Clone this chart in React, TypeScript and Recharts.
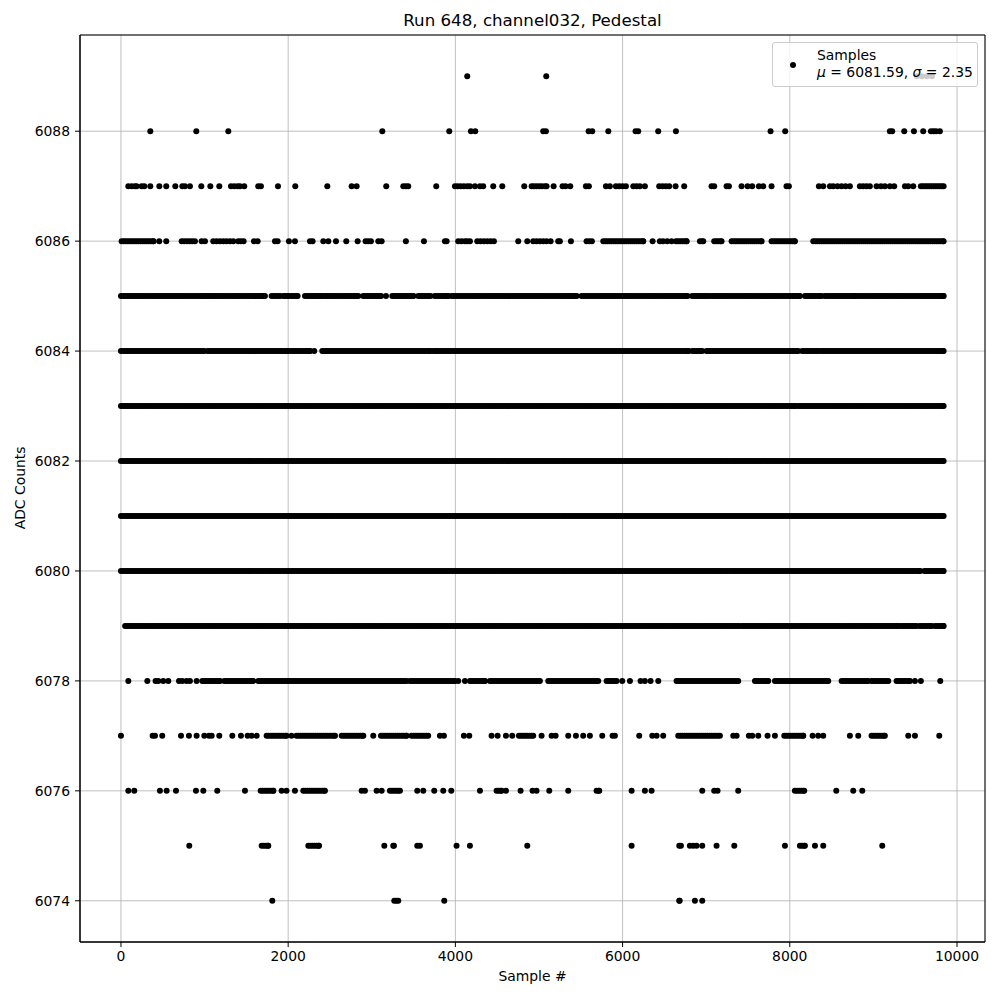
import React from "react";
import { ScatterChart, Scatter, XAxis, YAxis, CartesianGrid, ReferenceArea } from "recharts";

// Each entry: a single sample index (one dot) or [start, end] = a stretch read as densely filled
const adc6089 = [4142, 5087, 9520, 9580, 9640, 9700];
const adc6088 = [351, 901, 1284, 3126, 3927, 4186, 4238, 5051, 5083, 5594, 5637, 5829, 6155, 6187, 6426, 6638, 7770, 7945, 9197, 9225, 9369, 9485, 9596, 9688, 9720, 9750, 9795];
const adc6087: (number | number[])[] = [88, 128, 167, 187, 247, 279, 351, 459, 542, 650, 734, 765, 825, 961, 1069, 1176, 1316, 1355, 1395, 1423, 1475, 1642, 1674, 1878, 2085, 2468, 2759, 2819, 3173, 3377, 3409, 3436, 3771, 3995, 4027, 4063, 4102, 4142, 4174, 4234, 4294, 4333, 4453, 4561, 4824, 4912, 4940, 4971, 5003, 5035, 5071, 5091, 5175, 5282, 5318, 5374, 5561, 5597, 5801, 5848, 5920, 5960, 6000, 6040, 6128, 6167, 6207, 6267, 6438, 6478, 6518, 6558, 6634, 6737, 7064, 7096, 7244, 7272, 7423, 7495, 7550, 7630, 7682, 7782, 7961, 7989, 8348, 8400, 8480, 8519, 8571, 8619, 8667, 8719, 8838, 8878, 8918, 8958, 9038, 9090, 9137, 9197, 9249, 9377, 9417, 9477, [9568, 9840]];
const adc6086: (number | number[])[] = [[8, 391], 458, 542, 726, 757, 789, 821, 853, 885, 965, 1005, 1104, 1144, 1184, 1224, 1264, 1304, 1344, 1403, 1435, 1467, 1591, 1635, 1842, 1874, 2009, 2081, 2261, 2292, 2420, 2480, 2572, 2695, 2831, 2926, 2958, 2990, 3078, 3118, 3408, 3624, 3875, 3895, 4034, 4074, 4114, 4142, 4174, 4262, 4301, 4341, 4381, 4421, 4461, 4752, 4860, 4931, 4971, 5011, 5051, 5091, 5139, 5230, 5250, 5382, 5569, 5601, 5633, [5769, 6247], 6359, 6446, 6486, 6534, 6586, [6638, 6766], [6925, 6965], [7096, 7184], [7304, 7663], [7782, 8061], [8281, 9840]];
const adc6085: (number | number[])[] = [[0, 1025], [1045, 1702], 1722, [1802, 1902], [1942, 2113], [2201, 2392], [2420, 2839], [2898, 3110], 3170, [3245, 3496], [3556, 3703], [3755, 3915], [3955, 5450], [5510, 6777], [6833, 7025], [7057, 8121], [8181, 8380], [8420, 8779], [8811, 9840]];
const adc6084: (number | number[])[] = [[0, 997], [1037, 2001], [2033, 2261], 2312, [2408, 3703], [3735, 6786], [6833, 6953], [7005, 8101], [8149, 8349], [8380, 9840]];
const adc6083: (number | number[])[] = [[0, 8069], [8101, 9840]];
const adc6082: (number | number[])[] = [[0, 9840]];
const adc6081: (number | number[])[] = [[0, 9840]];
const adc6080: (number | number[])[] = [[0, 9556], [9608, 9840]];
const adc6079: (number | number[])[] = [[50, 7391], [7423, 9289], [9317, 9517], [9556, 9696], [9736, 9840]];
const adc6078: (number | number[])[] = [88, 315, 414, 446, 506, 566, 694, 733, 785, 825, 905, [973, 1184], [1236, 1583], [1643, 3416], [3456, 3994], 4034, 4114, [4174, 4353], [4413, 5011], [5111, 5709], [5809, 5928], 5996, 6088, 6215, 6267, 6335, 6427, [6646, 7383], [7583, 7742], [7822, 8460], [8620, 8938], [8978, 9178], [9277, 9437], 9497, 9568, 9800];
const adc6077: (number | number[])[] = [0, 379, 407, 494, 718, 813, 905, 997, 1053, 1085, 1176, 1332, 1435, 1515, 1563, 1623, [1742, 1980], 2040, [2100, 2560], [2640, 2899], 3018, [3110, 3416], [3476, 3675], 3815, 3863, 4102, 4166, 4433, 4505, 4605, 4680, [4760, 4931], 5031, 5151, 5199, 5350, 5442, 5529, 5609, 5757, 5880, 5908, 6199, 6355, 6407, 6486, [6666, 7164], 7324, 7364, 7511, 7551, 7623, 7734, 7822, [7934, 8161], 8273, 8340, 8400, 8719, 8819, [8978, 9137], 9417, 9497, 9788];
const adc6076: (number | number[])[] = [88, 159, 466, 546, 658, 897, 985, 1152, 1483, [1671, 1822], 1922, 1980, 2081, [2181, 2440], 2879, 2918, 3058, 3118, [3217, 3337], 3544, 3616, 3747, 3855, 3951, 4294, [4493, 4553], 4605, 4780, 4923, 4971, 5123, 5350, [5689, 5721], 6108, 6267, 6347, 6953, 7096, 7136, 7383, [8061, 8173], 8556, 8759, 8867];
const adc6075: (number | number[])[] = [817, [1683, 1762], [2241, 2368], 3150, [3257, 3265], 3544, 3576, 4014, 4174, 4860, 6108, [6678, 6698], 6805, 6845, 6885, 6953, 7124, 7336, 7942, [8121, 8181], 8301, 8400, 9106];
const adc6074: (number | number[])[] = [1810, [3269, 3317], 3867, [6678, 6682], 6865, 6953];

const xTicks = [0, 2000, 4000, 6000, 8000, 10000];
const yTicks = [6074, 6076, 6078, 6080, 6082, 6084, 6086, 6088];
const xDomain = [-490, 10335];
const yDomain = [6073.25, 6089.75];

const levelEntries: [number, (number | number[])[]][] = [
  [6089, adc6089], [6088, adc6088], [6087, adc6087], [6086, adc6086], [6085, adc6085],
  [6084, adc6084], [6083, adc6083], [6082, adc6082], [6081, adc6081], [6080, adc6080],
  [6079, adc6079], [6078, adc6078], [6077, adc6077], [6076, adc6076], [6075, adc6075], [6074, adc6074],
];

const STEP = 25;
const data: { x: number; y: number }[] = [];
levelEntries.forEach(([level, entries]) => {
  entries.forEach((e) => {
    if (typeof e === "number") {
      data.push({ x: e, y: level });
    } else {
      let s = e[0];
      for (; s < e[1]; s += STEP) data.push({ x: s, y: level });
      data.push({ x: e[1], y: level });
    }
  });
});

const FONT = "DejaVu Sans, sans-serif";
const tickStyle = { fill: "#000", fontSize: 13.9, fontFamily: FONT };

export default function App() {
  return (
    <div style={{ position: "absolute", left: 0, top: 0, width: 1000, height: 1000, background: "#fff", fontFamily: FONT }}>
      <div style={{ position: "absolute", left: 80, width: 905, top: 13, textAlign: "center", fontSize: 16.67, lineHeight: "16.67px", color: "#000" }}>
        Run 648, channel032, Pedestal
      </div>
      <ScatterChart width={1000} height={1000} margin={{ top: 35, right: 15, bottom: 0, left: 0 }}>
        <CartesianGrid stroke="#b0b0b0" strokeWidth={0.8} />
        <XAxis
          type="number"
          dataKey="x"
          domain={xDomain}
          ticks={xTicks}
          allowDataOverflow
          height={58}
          tickSize={5}
          tickMargin={4}
          tick={tickStyle}
          stroke="#000"
          tickLine={{ stroke: "#000" }}
          axisLine={{ stroke: "#000" }}
        />
        <YAxis
          type="number"
          dataKey="y"
          domain={yDomain}
          ticks={yTicks}
          allowDataOverflow
          width={80}
          tickSize={5}
          tickMargin={5}
          tick={tickStyle}
          stroke="#000"
          tickLine={{ stroke: "#000" }}
          axisLine={{ stroke: "#000" }}
        />
        <Scatter
          data={data}
          fill="#000"
          isAnimationActive={false}
          shape={(p: any) => <circle cx={p.cx} cy={p.cy} r={3} fill="#000" />}
        />
        <ReferenceArea
          x1={xDomain[0]}
          x2={xDomain[1]}
          y1={yDomain[0]}
          y2={yDomain[1]}
          fill="none"
          fillOpacity={0}
          stroke="#000"
          strokeWidth={1}
          ifOverflow="visible"
        />
      </ScatterChart>
      <div style={{ position: "absolute", left: 80, width: 905, top: 970, textAlign: "center", fontSize: 13.9, lineHeight: "13.9px", color: "#000" }}>
        Sample #
      </div>
      <div style={{ position: "absolute", left: 21, top: 488, width: 0, height: 0 }}>
        <div style={{ position: "absolute", left: -100, top: -7, width: 200, textAlign: "center", fontSize: 13.9, lineHeight: "13.9px", color: "#000", transform: "rotate(-90deg)" }}>
          ADC Counts
        </div>
      </div>
      <div style={{ position: "absolute", left: 772, top: 42, width: 204, height: 43, background: "rgba(255,255,255,0.8)", border: "1px solid #cccccc", borderRadius: 3, fontSize: 13.9, color: "#000" }}>
        <div style={{ position: "absolute", left: 17, top: 19, width: 6, height: 6, borderRadius: 3, background: "#000" }} />
        <div style={{ position: "absolute", left: 44, top: 4, lineHeight: "16px", whiteSpace: "nowrap" }}>Samples</div>
        <div style={{ position: "absolute", left: 44, top: 21, lineHeight: "16px", whiteSpace: "nowrap" }}>
          <i>μ</i> = 6081.59, <i>σ</i> = 2.35
        </div>
      </div>
    </div>
  );
}
